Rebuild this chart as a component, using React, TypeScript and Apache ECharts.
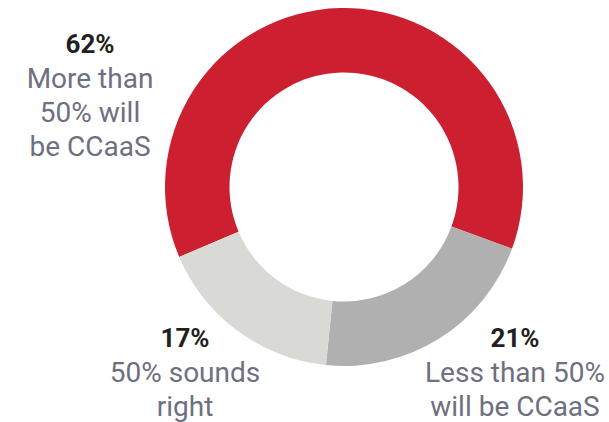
import React, { useEffect, useRef } from "react";
import * as echarts from "echarts";

const categories = ["More than 50% will be CCaaS", "Less than 50% will be CCaaS", "50% sounds right"];
const values = [62, 21, 17];
const labelLines = [
  ["More than", "50% will", "be CCaaS"],
  ["Less than 50%", "will be CCaaS"],
  ["50% sounds", "right"],
];
const colors = ["#CC1F2F", "#B0B0B0", "#D9DAD6"];

export default function App() {
  const ref = useRef<HTMLDivElement>(null);
  useEffect(() => {
    document.body.style.margin = "0";
    const chart = echarts.init(ref.current!, null, { renderer: "svg" });
    const labelPos = [
      { x: 90, y: 27 },
      { x: 515, y: 321 },
      { x: 185, y: 321 },
    ];
    const LH = 34;
    const graphics: any[] = [];
    values.forEach((v, i) => {
      const lines = [`${v}%`, ...labelLines[i]];
      lines.forEach((line, k) => {
        graphics.push({
          type: "text",
          x: labelPos[i].x,
          y: labelPos[i].y + LH / 2 + k * LH,
          style: {
            text: line,
            align: "center",
            verticalAlign: "middle",
            fontFamily: "Roboto",
            fontWeight: k === 0 ? "bold" : "normal",
            fontSize: k === 0 ? 26 : 28,
            fill: k === 0 ? "#231F20" : "#6E7080",
          },
        });
      });
    });
    chart.setOption({
      animation: false,
      graphic: graphics,
      series: [
        {
          type: "pie",
          center: [344, 187],
          radius: [114.5, 179],
          startAngle: 203,
          clockwise: true,
          label: { show: false },
          labelLine: { show: false },
          silent: true,
          data: categories.map((c, i) => ({ name: c, value: values[i], itemStyle: { color: colors[i] } })),
        },
      ],
    });
    return () => chart.dispose();
  }, []);
  return <div ref={ref} style={{ width: 609, height: 422 }} />;
}
